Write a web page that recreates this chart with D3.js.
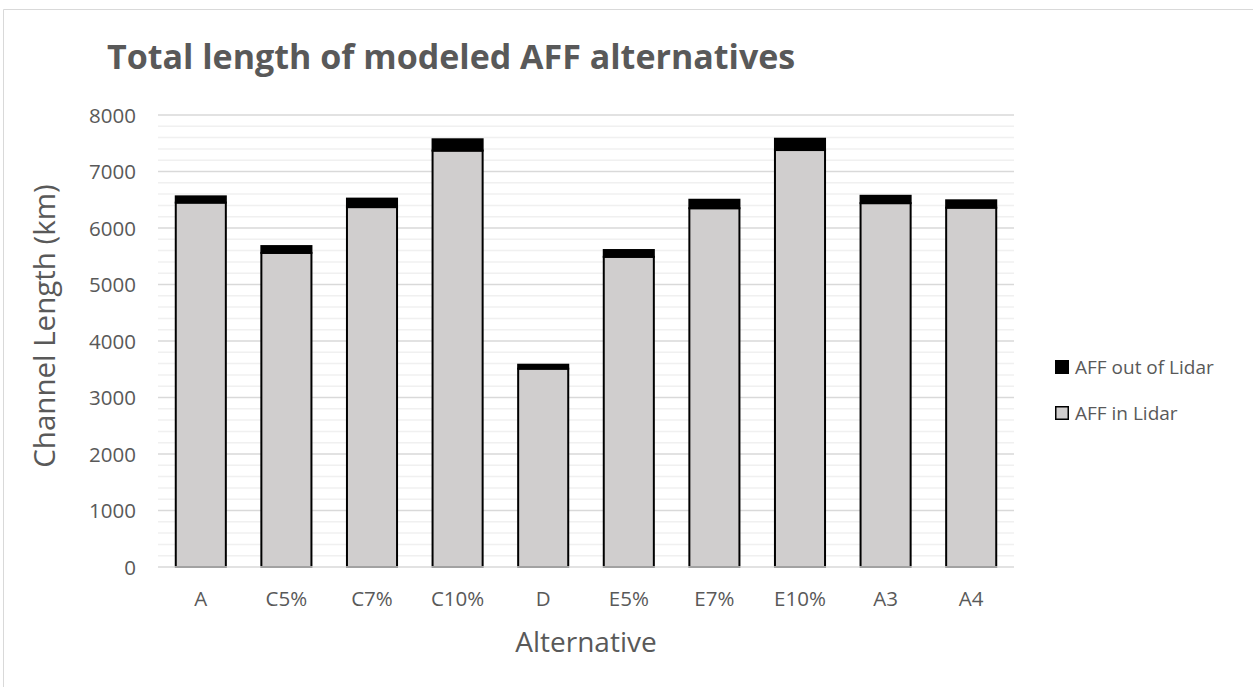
<!DOCTYPE html>
<html>
<head>
<meta charset="utf-8">
<script src="https://cdn.jsdelivr.net/npm/d3@7"></script>
<style>
  body { margin: 0; background: #fff; }
  text { font-family: "Open Sans", sans-serif; fill: #595959; }
</style>
</head>
<body>
<svg id="chart" width="1253" height="687"></svg>
<script>
// data
const categories = ["A", "C5%", "C7%", "C10%", "D", "E5%", "E7%", "E10%", "A3", "A4"];
const inLidar  = [6450, 5560, 6370, 7370, 3510, 5490, 6350, 7380, 6440, 6360];
const outLidar = [110, 120, 150, 200, 70, 120, 150, 200, 130, 130];
const seriesNames = ["AFF in Lidar", "AFF out of Lidar"];
const yTicks = [0, 1000, 2000, 3000, 4000, 5000, 6000, 7000, 8000];

const svg = d3.select("#chart");

// outer chart border (runs off right/bottom edge)
svg.append("path")
  .attr("d", "M3.5,700 L3.5,9.5 L1260,9.5")
  .attr("fill", "none")
  .attr("stroke", "#d9d9d9")
  .attr("stroke-width", 1);

const plot = { left: 158, right: 1014, top: 115, bottom: 567 };

const x = d3.scaleBand()
  .domain(categories)
  .range([plot.left, plot.right])
  .paddingInner(0.415)
  .paddingOuter(0.2075);

const y = d3.scaleLinear()
  .domain([0, 8000])
  .range([plot.bottom, plot.top]);

// minor gridlines every 200
const minor = d3.range(200, 8000, 200).filter(v => v % 1000 !== 0);
svg.append("g").selectAll("line").data(minor).join("line")
  .attr("x1", plot.left).attr("x2", plot.right)
  .attr("y1", d => y(d)).attr("y2", d => y(d))
  .attr("stroke", "#f0f0f0").attr("stroke-width", 1.5);

// major gridlines
svg.append("g").selectAll("line").data(yTicks.filter(v => v > 0)).join("line")
  .attr("x1", plot.left).attr("x2", plot.right)
  .attr("y1", d => y(d)).attr("y2", d => y(d))
  .attr("stroke", "#d9d9d9").attr("stroke-width", 1.5);

// y tick labels
svg.append("g").selectAll("text").data(yTicks).join("text")
  .attr("x", 136)
  .attr("y", d => y(d) + 7.5)
  .attr("text-anchor", "end")
  .style("font-size", "20.5px")
  .text(d => d);

// stacked bars
const rows = categories.map((c, i) => ({ cat: c, in: inLidar[i], out: outLidar[i] }));
const stack = d3.stack().keys(["in", "out"])(rows);
const fills = { in: "#d0cece", out: "#000000" };

const bars = svg.append("g");
stack.forEach(layer => {
  bars.append("g").selectAll("rect").data(layer).join("rect")
    .attr("x", d => x(d.data.cat))
    .attr("y", d => y(d[1]))
    .attr("width", x.bandwidth())
    .attr("height", d => y(d[0]) - y(d[1]))
    .attr("fill", fills[layer.key])
    .attr("stroke", "#000")
    .attr("stroke-width", 2);
});

// x axis baseline
svg.append("line")
  .attr("x1", plot.left).attr("x2", plot.right)
  .attr("y1", y(0)).attr("y2", y(0))
  .attr("stroke", "#d9d9d9").attr("stroke-width", 1.5);

// category labels
svg.append("g").selectAll("text").data(categories).join("text")
  .attr("x", d => x(d) + x.bandwidth() / 2)
  .attr("y", 606)
  .attr("text-anchor", "middle")
  .style("font-size", "20.5px")
  .text(d => d);

// title
svg.append("text")
  .attr("x", 107).attr("y", 69)
  .style("font-size", "34px")
  .style("font-weight", "bold")
  .text("Total length of modeled AFF alternatives");

// axis titles
svg.append("text")
  .attr("x", (plot.left + plot.right) / 2)
  .attr("y", 652)
  .attr("text-anchor", "middle")
  .style("font-size", "28px")
  .text("Alternative");

svg.append("text")
  .attr("transform", "translate(55,326) rotate(-90)")
  .attr("text-anchor", "middle")
  .style("font-size", "29.5px")
  .text("Channel Length (km)");

// legend (out of Lidar on top)
const legendItems = [
  { name: seriesNames[1], fill: fills.out },
  { name: seriesNames[0], fill: fills.in }
];
const legend = svg.append("g").selectAll("g").data(legendItems).join("g")
  .attr("transform", (d, i) => `translate(1055,${360 + i * 46})`);
legend.append("rect")
  .attr("x", 0.75).attr("y", 0.75)
  .attr("width", 12.5).attr("height", 12.5)
  .attr("fill", d => d.fill)
  .attr("stroke", "#000").attr("stroke-width", 1.5);
legend.append("text")
  .attr("x", 20).attr("y", 14)
  .style("font-size", "19px")
  .text(d => d.name);
</script>
</body>
</html>
